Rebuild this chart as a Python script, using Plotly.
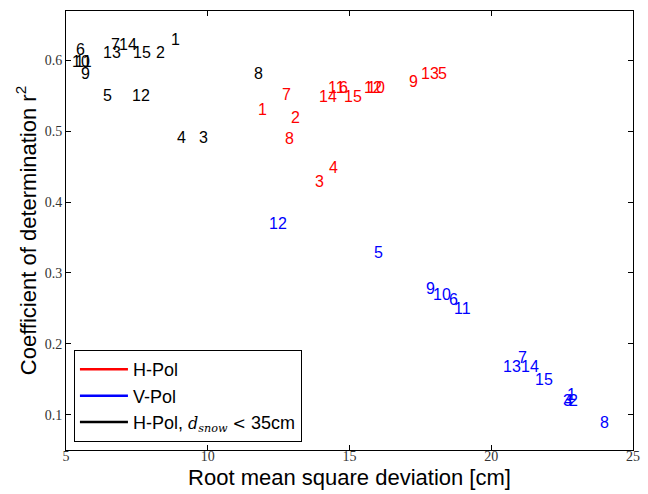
import plotly.graph_objects as go

# Labels (station numbers) for each series
labels = [str(i) for i in range(1, 16)]

# H-Pol (red): RMSD [cm], r^2
hpol_rmsd = [11.73, 12.90, 13.75, 14.24, 18.07, 14.59, 12.57, 12.70, 17.06, 15.58, 14.21, 15.48, 17.50, 13.90, 14.77]
hpol_r2 = [0.522, 0.511, 0.421, 0.441, 0.573, 0.554, 0.544, 0.481, 0.562, 0.553, 0.554, 0.553, 0.573, 0.541, 0.541]

# V-Pol (blue)
vpol_rmsd = [22.64, 22.71, 22.50, 22.54, 15.82, 18.47, 20.90, 23.80, 17.66, 17.90, 18.65, 12.14, 20.37, 21.01, 21.51]
vpol_r2 = [0.120, 0.111, 0.111, 0.111, 0.321, 0.254, 0.172, 0.080, 0.270, 0.261, 0.241, 0.361, 0.160, 0.160, 0.141]

# H-Pol, d_snow < 35 cm (black)
hshal_rmsd = [8.67, 8.14, 9.66, 8.88, 6.27, 5.32, 6.55, 11.60, 5.49, 5.18, 5.28, 7.29, 6.27, 6.83, 7.33]
hshal_r2 = [0.621, 0.603, 0.483, 0.483, 0.542, 0.607, 0.614, 0.573, 0.573, 0.590, 0.590, 0.542, 0.603, 0.614, 0.603]

x_ticks = [5, 10, 15, 20, 25]
y_ticks = [0.1, 0.2, 0.3, 0.4, 0.5, 0.6]

series = [
    ("H-Pol", hpol_rmsd, hpol_r2, "red"),
    ("V-Pol", vpol_rmsd, vpol_r2, "blue"),
    ("H-Pol, <span style='font-family:DejaVu Serif;font-size:16px'><i>d</i><sub><i>snow</i></sub> &lt;</span> 35cm",
     hshal_rmsd, hshal_r2, "black"),
]

fig = go.Figure()
annotations = []
for name, xs, ys, color in series:
    # legend entry as a line
    fig.add_trace(go.Scatter(x=[None], y=[None], mode="lines", name=name,
                             line=dict(color=color, width=2.5)))
    for lab, xv, yv in zip(labels, xs, ys):
        annotations.append(dict(x=xv, y=yv, xref="x", yref="y", text=lab,
                                showarrow=False, xanchor="left", yanchor="bottom",
                                xshift=-1, yshift=-4.5,
                                font=dict(family="Liberation Sans, Arial", size=16, color=color)))

fig.update_layout(
    width=648, height=494,
    margin=dict(l=66, r=15, t=11, b=44),
    paper_bgcolor="white", plot_bgcolor="white",
    annotations=annotations,
    showlegend=True,
    legend=dict(x=0.014, y=0.018, xanchor="left", yanchor="bottom",
                bordercolor="black", borderwidth=1, bgcolor="white",
                font=dict(family="Liberation Sans, Arial", size=18, color="black"),
                itemwidth=48, tracegroupgap=0),
)
fig.update_xaxes(range=[5, 25], tickvals=x_ticks, ticktext=[str(v) for v in x_ticks],
                 ticks="inside", ticklen=5, tickcolor="black", mirror="ticks",
                 showline=True, linecolor="black", linewidth=1, showgrid=False, zeroline=False,
                 automargin=False, ticklabelstandoff=-7,
                 tickfont=dict(family="Liberation Serif, DejaVu Serif", size=14, color="#333"),
                 title=dict(text="Root mean square deviation [cm]", standoff=6,
                            font=dict(family="Liberation Sans, Arial", size=22, color="black")))
fig.update_yaxes(range=[0.05, 0.67], tickvals=y_ticks, ticktext=["%.1f" % v for v in y_ticks],
                 ticks="inside", ticklen=5, tickcolor="black", mirror="ticks",
                 showline=True, linecolor="black", linewidth=1, showgrid=False, zeroline=False,
                 automargin=False,
                 tickfont=dict(family="Liberation Serif, DejaVu Serif", size=14, color="#333"),
                 title=dict(text="Coefficient of determination r<sup>2</sup>", standoff=2,
                            font=dict(family="Liberation Sans, Arial", size=22, color="black")))

fig.write_html("out.html", config={"displayModeBar": False},
               post_script="document.body.style.margin='0';document.body.style.overflow='hidden';")
